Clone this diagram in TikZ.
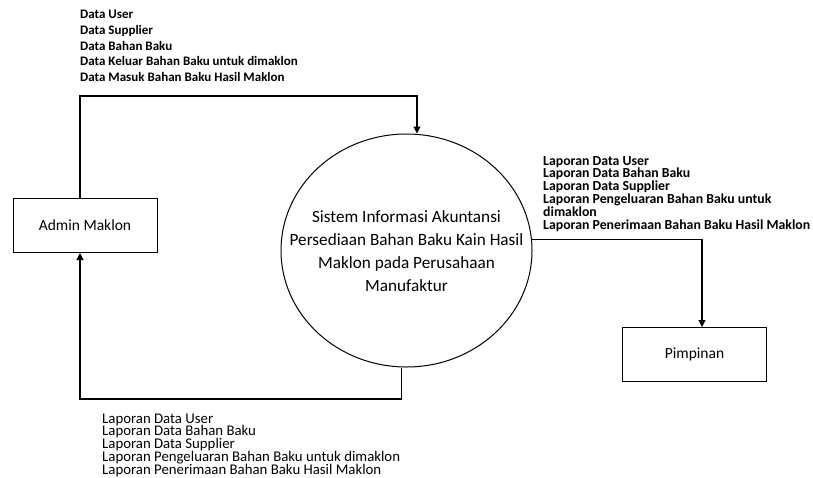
\documentclass[tikz,border=0pt]{standalone}
\usepackage{fontspec}
\setmainfont{Carlito}
\usetikzlibrary{shapes.geometric,arrows.meta,calc}
\newcommand\tightskip{\lineskiplimit=-30pt\relax}
\begin{document}
\begin{tikzpicture}[x=1pt,y=-1pt,
  line/.style={draw=black,line width=1.1pt},
  arr/.style={line,-{Triangle[length=7pt,width=7pt]}},
  entity/.style={draw=black,line width=1pt,minimum width=144pt,minimum height=54pt,inner sep=0pt,font=\fontsize{15.5}{18}\selectfont},
  proc/.style={ellipse,draw=black,line width=1pt,minimum width=251pt,minimum height=233pt,inner sep=0pt},
  proctext/.style={inner sep=0pt,align=center,font=\fontsize{17.2}{23}\selectfont},
  lbl/.style={anchor=north west,inner sep=0pt,align=left}
]
\useasboundingbox (0,0) rectangle (813,477);
\node[entity] (admin) at (85,225.5) {Admin Maklon};
\node[entity] (pim) at (694.5,354.5) {Pimpinan};
\node[proc] (circ) at (406.5,250.5) {};
\node[proctext] (circtext) at (406.5,251) {Sistem Informasi Akuntansi\\Persediaan Bahan Baku Kain Hasil\\Maklon pada Perusahaan\\Manufaktur};
\coordinate (tc) at (417,96);
\coordinate (bc) at (80,399);
\draw[arr] ([xshift=-5pt]admin.north) |- (tc) -- (tc |- circ.north);
\draw[arr] (circ.5.5) -| ([xshift=7.5pt]pim.north);
\draw[arr] ([xshift=-5pt]circ.south) |- (bc) -- ([xshift=-5pt]admin.south);
\node[lbl,font=\bfseries\fontsize{13}{15.7}\selectfont] (t1) at (80,10) {Data User\\Data Supplier\\Data Bahan Baku\\Data Keluar Bahan Baku untuk dimaklon\\Data Masuk Bahan Baku Hasil Maklon};
\node[lbl,font=\bfseries\fontsize{13.8}{12.8}\selectfont\tightskip] (t2) at (543,156) {Laporan Data User\\Laporan Data Bahan Baku\\Laporan Data Supplier\\Laporan Pengeluaran Bahan Baku untuk\\dimaklon\\Laporan Penerimaan Bahan Baku Hasil Maklon};
\node[lbl,font=\fontsize{14.8}{12.7}\selectfont\tightskip] (t3) at (102,413.5) {Laporan Data User\\Laporan Data Bahan Baku\\Laporan Data Supplier\\Laporan Pengeluaran Bahan Baku untuk dimaklon\\Laporan Penerimaan Bahan Baku Hasil Maklon};
\end{tikzpicture}
\end{document}
